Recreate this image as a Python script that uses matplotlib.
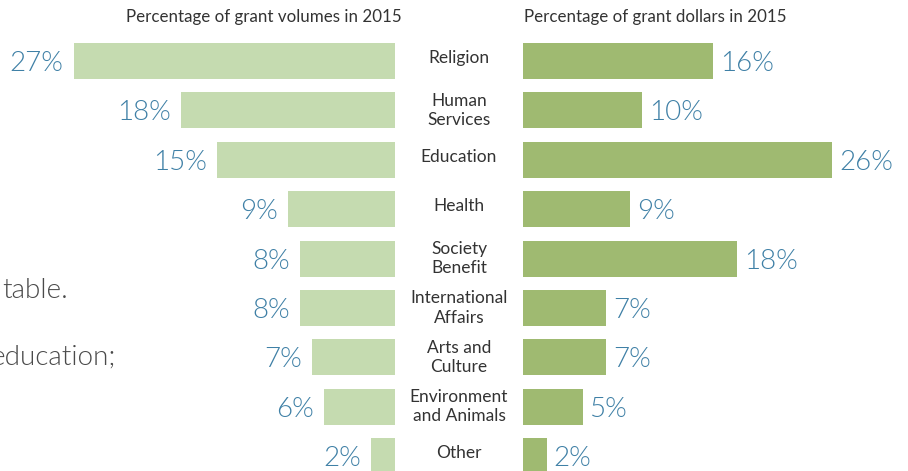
import matplotlib
matplotlib.use("Agg")
import matplotlib.pyplot as plt

categories = ["Religion", "Human\nServices", "Education", "Health", "Society\nBenefit",
              "International\nAffairs", "Arts and\nCulture", "Environment\nand Animals", "Other"]
volumes = [27, 18, 15, 9, 8, 8, 7, 6, 2]
dollars = [16, 10, 26, 9, 18, 7, 7, 5, 2]

W, H = 908, 471
px_per_pct = 11.9
row_step = 49.4
first_center = 61
bar_h = 36

light_green = "#c5dbb0"
dark_green = "#9fba71"
blue = "#3f80a6"
dark = "#333333"

plt.rcParams['font.family'] = ['Lato', 'DejaVu Sans']

fig = plt.figure(figsize=(W / 100, H / 100), dpi=100)

# y limits in row units so that row i sits at pixel first_center + i*row_step
y_top = -first_center / row_step
y_bot = (H - first_center) / row_step

left_edge = 395
right_edge = 523
ax_l = fig.add_axes([0, 0, left_edge / W, 1])
ax_r = fig.add_axes([right_edge / W, 0, (W - right_edge) / W, 1])

ax_l.set_xlim(left_edge / px_per_pct, 0)
ax_r.set_xlim(0, (W - right_edge) / px_per_pct)
for ax in (ax_l, ax_r):
    ax.set_ylim(y_bot, y_top)
    ax.axis("off")

rows = list(range(len(categories)))
hb = bar_h / row_step
ax_l.barh(rows, volumes, height=hb, color=light_green)
ax_r.barh(rows, dollars, height=hb, color=dark_green)

dy = 2.5 / row_step
for i, v in enumerate(volumes):
    ax_l.text(v + 10 / px_per_pct, i + dy, f"{v}%", ha="right", va="center",
              fontsize=20, fontweight=300, color=blue)
for i, v in enumerate(dollars):
    ax_r.text(v + 7 / px_per_pct, i + dy, f"{v}%", ha="left", va="center",
              fontsize=20, fontweight=300, color=blue)

# category labels in the gap between the two charts
cx = (459 - right_edge) / (W - right_edge)
for i, c in enumerate(categories):
    off = -3 if "\n" not in c else 0
    ax_r.text(cx, i + off / row_step, c, transform=ax_r.get_yaxis_transform(),
              ha="center", va="center", fontsize=12.5, color=dark,
              linespacing=1.25, clip_on=False)

fig.text(264 / W, 1 - 17 / H, "Percentage of grant volumes in 2015", ha="center",
         va="center", fontsize=12.2, color=dark)
fig.text(524 / W, 1 - 17 / H, "Percentage of grant dollars in 2015", ha="left",
         va="center", fontsize=12.2, color=dark)

# cut-off body text from the page behind the chart
fig.text(68 / W, 1 - 290 / H, "table.", ha="right", va="center", fontsize=20,
         fontweight=300, color="#4a4a4a")
fig.text(116 / W, 1 - 357 / H, "education;", ha="right", va="center", fontsize=20,
         fontweight=300, color="#4a4a4a")

fig.savefig("out.png", dpi=100)
